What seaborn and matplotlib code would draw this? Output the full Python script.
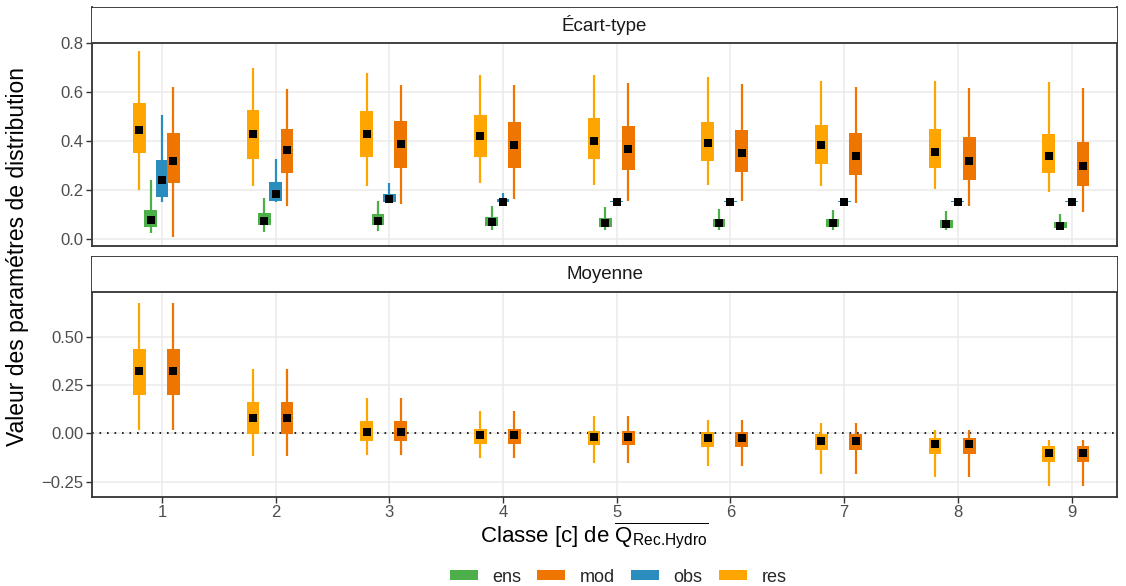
import numpy as np
import pandas as pd
import matplotlib
matplotlib.use("Agg")
import matplotlib.pyplot as plt
from matplotlib.patches import Rectangle, Patch
import seaborn as sns

# ---------- Data ----------
classes = [1, 2, 3, 4, 5, 6, 7, 8, 9]
groups  = ["ens", "mod", "obs", "res"]
colors  = {"ens": "#4DAF4A", "mod": "#EE7600", "obs": "#2B8CBE", "res": "#FFA500"}
offsets = {"res": -0.2, "ens": -0.1, "obs": 0.0, "mod": 0.1}

# Écart-type : lo / q1 / med / q3 / hi
sd_ens_lo  = [0.026, 0.030, 0.034, 0.037, 0.037, 0.037, 0.037, 0.037, 0.037]
sd_ens_q1  = [0.050, 0.057, 0.056, 0.053, 0.050, 0.048, 0.048, 0.046, 0.044]
sd_ens_med = [0.078, 0.075, 0.075, 0.071, 0.067, 0.067, 0.064, 0.063, 0.054]
sd_ens_q3  = [0.118, 0.107, 0.101, 0.091, 0.084, 0.082, 0.080, 0.078, 0.069]
sd_ens_hi  = [0.241, 0.165, 0.156, 0.136, 0.129, 0.121, 0.118, 0.114, 0.102]

sd_mod_lo  = [0.010, 0.135, 0.141, 0.162, 0.155, 0.155, 0.146, 0.136, 0.111]
sd_mod_q1  = [0.227, 0.268, 0.288, 0.288, 0.282, 0.272, 0.261, 0.241, 0.216]
sd_mod_med = [0.318, 0.363, 0.386, 0.381, 0.365, 0.352, 0.340, 0.316, 0.299]
sd_mod_q3  = [0.431, 0.448, 0.482, 0.475, 0.461, 0.442, 0.430, 0.414, 0.396]
sd_mod_hi  = [0.619, 0.611, 0.626, 0.629, 0.636, 0.633, 0.620, 0.615, 0.615]

sd_obs_lo  = [0.152, 0.150, 0.150, 0.147, 0.149, 0.149, 0.149, 0.149, 0.149]
sd_obs_q1  = [0.173, 0.156, 0.152, 0.149, 0.150, 0.150, 0.150, 0.150, 0.150]
sd_obs_med = [0.241, 0.185, 0.162, 0.152, 0.152, 0.152, 0.152, 0.152, 0.152]
sd_obs_q3  = [0.322, 0.231, 0.184, 0.162, 0.154, 0.154, 0.154, 0.154, 0.154]
sd_obs_hi  = [0.506, 0.326, 0.227, 0.189, 0.156, 0.155, 0.155, 0.155, 0.155]

sd_res_lo  = [0.200, 0.214, 0.214, 0.227, 0.220, 0.220, 0.214, 0.204, 0.193]
sd_res_q1  = [0.350, 0.325, 0.336, 0.333, 0.325, 0.316, 0.306, 0.291, 0.268]
sd_res_med = [0.442, 0.429, 0.429, 0.418, 0.401, 0.393, 0.381, 0.356, 0.340]
sd_res_q3  = [0.556, 0.527, 0.522, 0.506, 0.493, 0.476, 0.465, 0.448, 0.427]
sd_res_hi  = [0.764, 0.697, 0.676, 0.669, 0.669, 0.660, 0.645, 0.645, 0.640]

# Moyenne : only mod and res
mo_mod_lo  = [0.019, -0.116, -0.113, -0.130, -0.152, -0.169, -0.209, -0.227, -0.272]
mo_mod_q1  = [0.198, -0.002, -0.041, -0.053, -0.063, -0.073, -0.087, -0.108, -0.149]
mo_mod_med = [0.320, 0.079, 0.007, -0.010, -0.019, -0.024, -0.041, -0.055, -0.101]
mo_mod_q3  = [0.438, 0.161, 0.062, 0.024, 0.012, 0.007, -0.002, -0.026, -0.067]
mo_mod_hi  = [0.673, 0.332, 0.183, 0.118, 0.089, 0.067, 0.055, 0.015, -0.032]

mo_res_lo  = [0.019, -0.116, -0.113, -0.130, -0.152, -0.169, -0.209, -0.227, -0.272]
mo_res_q1  = [0.198, -0.002, -0.041, -0.053, -0.063, -0.073, -0.087, -0.108, -0.149]
mo_res_med = [0.320, 0.079, 0.007, -0.010, -0.019, -0.024, -0.041, -0.055, -0.101]
mo_res_q3  = [0.438, 0.161, 0.062, 0.024, 0.012, 0.007, -0.002, -0.026, -0.067]
mo_res_hi  = [0.673, 0.332, 0.183, 0.118, 0.089, 0.067, 0.055, 0.015, -0.032]

# ---------- Long table ----------
rows = []
def add(panel, grp, lo, q1, med, q3, hi):
    for i, c in enumerate(classes):
        rows.append(dict(panel=panel, groupe=grp, classe=c,
                         x=c + offsets[grp], lo=lo[i], q1=q1[i],
                         med=med[i], q3=q3[i], hi=hi[i]))

add("Écart-type", "ens", sd_ens_lo, sd_ens_q1, sd_ens_med, sd_ens_q3, sd_ens_hi)
add("Écart-type", "mod", sd_mod_lo, sd_mod_q1, sd_mod_med, sd_mod_q3, sd_mod_hi)
add("Écart-type", "obs", sd_obs_lo, sd_obs_q1, sd_obs_med, sd_obs_q3, sd_obs_hi)
add("Écart-type", "res", sd_res_lo, sd_res_q1, sd_res_med, sd_res_q3, sd_res_hi)
add("Moyenne", "mod", mo_mod_lo, mo_mod_q1, mo_mod_med, mo_mod_q3, mo_mod_hi)
add("Moyenne", "res", mo_res_lo, mo_res_q1, mo_res_med, mo_res_q3, mo_res_hi)
df = pd.DataFrame(rows)

# ---------- Style ----------
sns.set_theme(style="whitegrid")
plt.rcParams["font.family"] = ["Liberation Sans", "DejaVu Sans"]
plt.rcParams["mathtext.fontset"] = "custom"
plt.rcParams["mathtext.rm"] = "Liberation Sans"
plt.rcParams["mathtext.it"] = "Liberation Sans:italic"
plt.rcParams["axes.unicode_minus"] = True

fig = plt.figure(figsize=(11.26, 5.86), dpi=100)
ax_top = fig.add_axes([92 / 1126, 1 - 245.5 / 586, 1025 / 1126, 238 / 586])
ax_bot = fig.add_axes([92 / 1126, 1 - 496.7 / 586, 1025 / 1126, 240 / 586])

panels = [
    (ax_top, "Écart-type", (-0.0265, 0.943), [0.0, 0.2, 0.4, 0.6, 0.8], ["0.0", "0.2", "0.4", "0.6", "0.8"]),
    (ax_bot, "Moyenne", (-0.328, 0.914), [-0.25, 0.0, 0.25, 0.5], ["\u22120.25", "0.00", "0.25", "0.50"]),
]
BOX_W = 0.112
STRIP = 0.148

for ax, name, ylim, yt, ylab in panels:
    sub = df[df["panel"] == name]
    for grp in ["res", "ens", "obs", "mod"]:
        d = sub[sub["groupe"] == grp]
        if d.empty:
            continue
        ax.vlines(d["x"], d["lo"], d["hi"], color=colors[grp], lw=1.6, zorder=2)
        ax.bar(d["x"], d["q3"] - d["q1"], bottom=d["q1"], width=BOX_W,
               color=colors[grp], edgecolor="none", zorder=3)
    sns.scatterplot(data=sub, x="x", y="med", marker="s", color="black",
                    s=34, linewidth=0, ax=ax, zorder=4, legend=False)
    if name == "Moyenne":
        ax.axhline(0, color="black", lw=1.2, ls=(0, (1, 3.5)), zorder=1.5)

    ax.set_xlim(0.384, 9.40)
    ax.set_ylim(*ylim)
    ax.set_xticks(classes)
    ax.set_yticks(yt)
    ax.set_yticklabels(ylab)
    ax.set_xlabel("")
    ax.set_ylabel("")
    ax.grid(True, color="#EBEBEB", lw=1.1)
    ax.set_axisbelow(True)
    for s in ax.spines.values():
        s.set_color("#333333")
        s.set_linewidth(1.3)
    ax.tick_params(axis="both", colors="#333333", length=4, width=1.0,
                   labelsize=12, labelcolor="#4D4D4D", direction="out",
                   left=True, bottom=(name == "Moyenne"), pad=2)
    # strip on top of the panel
    ax.add_patch(Rectangle((0, 1 - STRIP), 1, STRIP, transform=ax.transAxes,
                           facecolor="white", edgecolor="none", zorder=5, clip_on=False))
    ax.plot([0, 1], [1 - STRIP, 1 - STRIP], transform=ax.transAxes,
            color="#333333", lw=1.3, zorder=6, clip_on=False)
    ax.text(0.5, 1 - STRIP / 2, name, transform=ax.transAxes, ha="center",
            va="center", fontsize=13.5, color="#1A1A1A", zorder=7)

ax_top.set_xticklabels([])
ax_bot.set_xticklabels([str(c) for c in classes])
ax_bot.set_xlabel(r"Classe [c] de $\overline{\mathrm{Q}_{\text{Rec.Hydro}}}$",
                  fontsize=16, color="black", labelpad=3)
ax_bot.xaxis.set_label_coords(0.49, -0.1)
ax_bot.xaxis.label.set_va("top")
fig.text(18 / 1126, 1 - 257 / 586, "Valeur des paramétres de distribution",
         rotation=90, ha="center", va="center", fontsize=16.5, color="black")

handles = [Patch(facecolor=colors[g], edgecolor="none", label=g) for g in groups]
fig.legend(handles=handles, loc="center", bbox_to_anchor=(618 / 1126, 1 - 577 / 586),
           ncol=4, frameon=False, fontsize=13, handlelength=1.55, handleheight=0.45,
           handletextpad=0.8, columnspacing=0.9)

fig.savefig("out.png", dpi=100)
